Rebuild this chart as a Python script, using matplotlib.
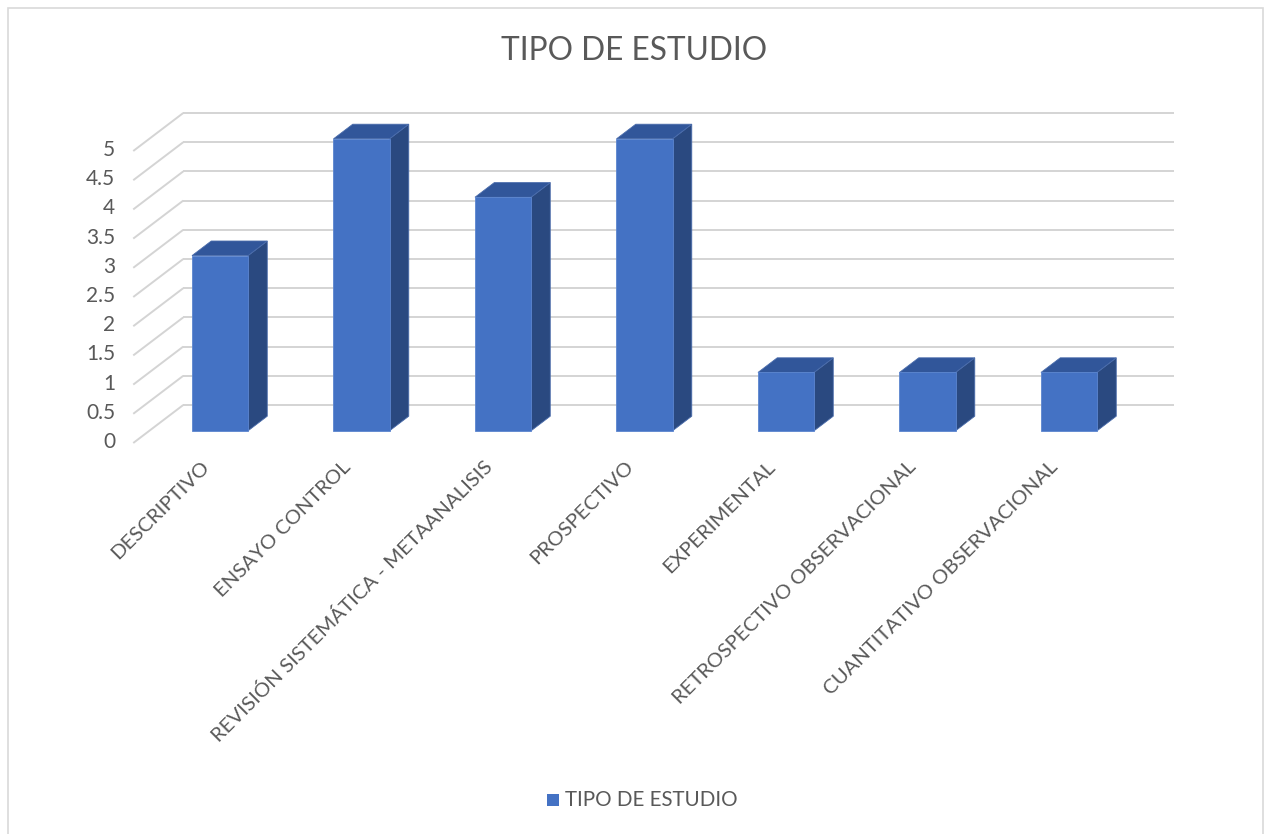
import matplotlib
matplotlib.use("Agg")
import matplotlib.pyplot as plt
from matplotlib.patches import Polygon, Rectangle

categories = ["DESCRIPTIVO", "ENSAYO CONTROL", "REVISIÓN SISTEMÁTICA - METAANALISIS",
              "PROSPECTIVO", "EXPERIMENTAL", "RETROSPECTIVO OBSERVACIONAL",
              "CUANTITATIVO OBSERVACIONAL"]
values = [3, 5, 4, 5, 1, 1, 1]
yticks = [0, 0.5, 1, 1.5, 2, 2.5, 3, 3.5, 4, 4.5, 5]
ytick_labels = ["0", "0.5", "1", "1.5", "2", "2.5", "3", "3.5", "4", "4.5", "5"]
title = "TIPO DE ESTUDIO"
series_name = "TIPO DE ESTUDIO"

plt.rcParams['font.family'] = ['Lato', 'DejaVu Sans']
TXT = '#595959'
GRID = '#D4D4D4'
FRONT = '#4472C4'
TOP = '#31569A'
SIDE = '#2A4980'

W, H = 1264, 834
fig = plt.figure(figsize=(W / 100, H / 100), dpi=100)
ax = fig.add_axes([0, 0, 1, 1])
# axis-plane mapping: category i centred at px 204 + 141.5*i, value v at py 443 - 58.4*v
px_per_cat = 141.5
px_per_val = 58.4
x0_px, y0_px = 204.0, 443.0
ax.set_xlim(-x0_px / px_per_cat, (W - x0_px) / px_per_cat)
ax.set_ylim((y0_px - H) / px_per_val, y0_px / px_per_val)
ax.axis('off')

n = len(categories)
xl, xr = -0.5, n - 0.5
DX = 50 / px_per_cat
DY = 38 / px_per_val

# back wall gridlines and left side-wall diagonals
for v in yticks:
    ax.plot([xl + DX, xr + DX], [v + DY, v + DY], color=GRID, lw=1.4, zorder=1,
            solid_capstyle='butt')
    ax.plot([xl, xl + DX], [v, v + DY], color=GRID, lw=1.4, zorder=1,
            solid_capstyle='butt')

# y tick labels
for v, lab in zip(yticks, ytick_labels):
    ax.annotate(lab, (xl, v), xytext=(-18, 1), textcoords='offset pixels',
                ha='right', va='center', fontsize=15, color=TXT)

# bars
f0, f1 = 0.32, 0.705
half = 0.198
for i, v in enumerate(values):
    ox0, oy0 = f0 * DX, f0 * DY
    ox1, oy1 = f1 * DX, f1 * DY
    L, R = i - half + ox0, i + half + ox0
    B, T = oy0, v + oy0
    front = Polygon([(L, B), (R, B), (R, T), (L, T)], closed=True,
                    facecolor=FRONT, edgecolor='#5B85CF', lw=0.6, zorder=3)
    top = Polygon([(L, T), (R, T), (R + (ox1 - ox0), T + (oy1 - oy0)),
                   (L + (ox1 - ox0), T + (oy1 - oy0))], closed=True,
                  facecolor=TOP, edgecolor='#4A6CAB', lw=0.6, zorder=3)
    side = Polygon([(R, B), (R + (ox1 - ox0), B + (oy1 - oy0)),
                    (R + (ox1 - ox0), T + (oy1 - oy0)), (R, T)], closed=True,
                   facecolor=SIDE, edgecolor='#4A6CAB', lw=0.6, zorder=3)
    for p in (side, top, front):
        ax.add_patch(p)

# category labels
for i, lab in enumerate(categories):
    ax.annotate(lab, (i, 0), xytext=(-4, -15), textcoords='offset pixels',
                ha='right', va='top', rotation=45, rotation_mode='anchor',
                fontsize=14.7, color=TXT)

# title
fig.text(634 / W, 1 - 51 / H, title, ha='center', va='center', fontsize=22.8, color=TXT)

# legend
ax.add_patch(Rectangle((547, H - 806), 12, 12, transform=None, facecolor=FRONT,
                       edgecolor='none'))
fig.text(565 / W, 1 - 800 / H, series_name, ha='left', va='center', fontsize=14.8, color=TXT)

# chart border
fig.patches.append(Rectangle((7.5 / W, -0.05), (1262.5 - 7.5) / W, 1.05 - 7.5 / H,
                             transform=fig.transFigure, fill=False,
                             edgecolor='#D9D9D9', lw=1.2))

fig.savefig('out.png', dpi=100, facecolor='white')
